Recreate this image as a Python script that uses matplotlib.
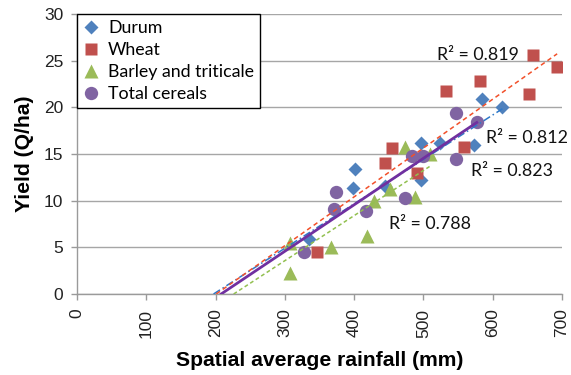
import numpy as np
import matplotlib
matplotlib.use("Agg")
import matplotlib.pyplot as plt
from matplotlib.lines import Line2D

# Rainfall (mm) and yield (Q/ha) per crop
durum_x = [335, 401, 398, 445, 497, 524, 497, 573, 585, 614]
durum_y = [5.9, 13.4, 11.4, 11.6, 16.2, 16.2, 12.2, 16.0, 20.9, 20.0]

wheat_x = [347, 444, 455, 491, 533, 559, 582, 653, 658, 693]
wheat_y = [4.55, 14.0, 15.6, 13.0, 21.75, 15.8, 22.8, 21.4, 25.6, 24.3]

barley_x = [308, 308, 367, 418, 428, 452, 473, 488, 510]
barley_y = [5.45, 2.3, 5.0, 6.2, 10.0, 11.2, 15.7, 10.35, 15.05]

total_x = [328, 374, 371, 417, 474, 483, 500, 547, 547, 577]
total_y = [4.55, 10.9, 9.1, 8.9, 10.25, 14.8, 14.8, 19.35, 14.5, 18.4]

series_names = ["Durum", "Wheat", "Barley and triticale", "Total cereals"]

# Linear trend lines (yield = slope * rainfall + intercept) and their R²
trend_slope = [0.0476, 0.0523, 0.0483, 0.0498]
trend_intercept = [-9.38, -10.51, -10.92, -10.36]
r2_labels = ["R\u00b2 = 0.812", "R\u00b2 = 0.819", "R\u00b2 = 0.788", "R\u00b2 = 0.823"]
r2_pos = [(590, 16.7), (520, 25.6), (450, 7.5), (569, 13.15)]

x_ticks = [0, 100, 200, 300, 400, 500, 600, 700]
y_ticks = [0, 5, 10, 15, 20, 25, 30]

marker_cols = ["#4F81BD", "#C0504D", "#9BBB59", "#8064A2"]
markers = ["D", "s", "^", "o"]
msizes = [6.8, 9.2, 9.6, 9.6]
trend_cols = ["#2E78C8", "#F2502A", "#92C050", "#7030A0"]
trend_styles = [(0, (5, 2, 1, 2)), (0, (3, 2.2)), (0, (2.5, 1.8)), "-"]
trend_widths = [1.1, 1.1, 1.1, 2.0]

plt.rcParams["font.family"] = ["Liberation Sans", "DejaVu Sans"]
label_font = ["Lato", "DejaVu Sans"]

fig = plt.figure(figsize=(5.71, 3.75), dpi=100)
ax = fig.add_axes([77 / 571, 1 - 294 / 375, 485 / 571, 280 / 375])

ax.set_xlim(0, 700)
ax.set_ylim(0, 30)
ax.set_xticks(x_ticks)
ax.set_yticks(y_ticks)
ax.set_xticklabels([str(t) for t in x_ticks], rotation=90)
ax.tick_params(axis="both", labelsize=12.5, labelcolor="#222222", length=4.5,
               width=1, direction="out", color="#9A9A9A")
ax.tick_params(axis="x", pad=6)
ax.tick_params(axis="y", pad=5.5)
ax.yaxis.grid(True, color="#A6A6A6", linewidth=1)
ax.set_axisbelow(True)
for side in ("top", "right"):
    ax.spines[side].set_visible(False)
for side in ("left", "bottom"):
    ax.spines[side].set_color("#9A9A9A")
    ax.spines[side].set_linewidth(1)

ax.set_xlabel("Spatial average rainfall (mm)", fontsize=15.2, fontweight="bold",
              labelpad=10)
ax.set_ylabel("Yield (Q/ha)", fontsize=15.2, fontweight="bold", labelpad=7)

all_x = [durum_x, wheat_x, barley_x, total_x]
all_y = [durum_y, wheat_y, barley_y, total_y]

# Points
for xs, ys, m, c, ms in zip(all_x, all_y, markers, marker_cols, msizes):
    ax.plot(xs, ys, linestyle="none", marker=m, markersize=ms,
            markerfacecolor=c, markeredgecolor="none", zorder=3)

# Trend lines from the zero-yield rainfall to the last observation
for xs, k, b, c, ls, lw in zip(all_x, trend_slope, trend_intercept,
                               trend_cols, trend_styles, trend_widths):
    xe = np.array([-b / k, max(xs)])
    ax.plot(xe, k * xe + b, color=c, linestyle=ls, linewidth=lw, zorder=4)

for txt, (tx, ty) in zip(r2_labels, r2_pos):
    ax.text(tx, ty, txt, fontsize=12.8, family=label_font, color="#111111",
            va="center", ha="left", zorder=5)

handles = [Line2D([], [], linestyle="none", marker=m, markersize=ms,
                  markerfacecolor=c, markeredgecolor="none")
           for m, c, ms in zip(markers, marker_cols, msizes)]
leg = ax.legend(handles, series_names, loc="upper left",
                bbox_to_anchor=(0, 1), borderaxespad=0, fancybox=False,
                framealpha=1, edgecolor="#000000", handlelength=0.9,
                handletextpad=0.5, labelspacing=0.33, borderpad=0.35,
                prop={"family": label_font, "size": 12.8})
leg.get_frame().set_linewidth(1)
leg.set_zorder(6)

fig.savefig("out.png", dpi=100)
